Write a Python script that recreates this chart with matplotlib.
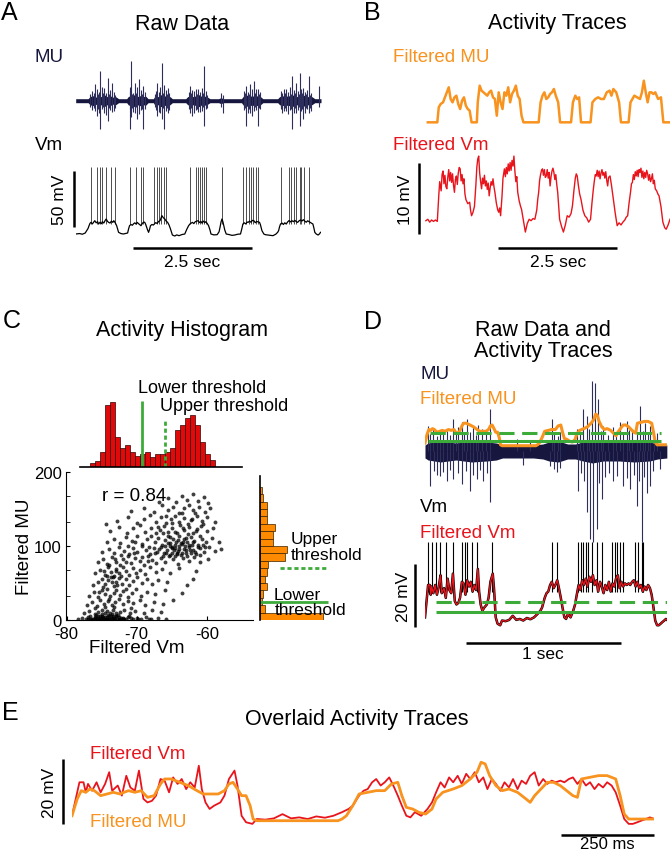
import numpy as np
import matplotlib.pyplot as plt
from matplotlib.lines import Line2D

plt.rcParams['font.family'] = ['Liberation Sans', 'DejaVu Sans']
plt.rcParams['axes.unicode_minus'] = False

NAVY = '#16163e'
NAVY2 = '#2e2e5c'
ORANGE = '#f7931e'
RED = '#e8141c'
GREEN = '#3cab3a'

# ---------------- A: raw data (time in s) ----------------
vm_a = [(0.00, -75.0), (0.08, -74.6), (0.14, -75.2), (0.20, -74.1), (0.26, -70.0), (0.28, -67.6), (0.30, -65.5),
        (0.32, -64.6), (0.35, -66.0), (0.38, -64.2), (0.40, -63.1), (0.43, -65.0), (0.46, -64.0), (0.48, -66.1),
        (0.51, -64.5), (0.54, -65.8), (0.56, -64.0), (0.59, -65.2), (0.62, -62.8), (0.64, -61.6), (0.67, -63.9),
        (0.70, -64.8), (0.72, -65.2), (0.75, -63.5), (0.78, -64.6), (0.80, -63.1), (0.83, -65.0), (0.86, -67.6),
        (0.88, -70.5), (0.90, -73.5), (0.95, -74.6), (1.00, -75.0), (1.05, -74.5), (1.09, -74.1), (1.11, -70.5),
        (1.13, -67.6), (1.16, -66.5), (1.19, -67.2), (1.21, -66.1), (1.24, -65.0), (1.27, -66.2), (1.29, -64.6),
        (1.32, -65.8), (1.35, -66.8), (1.37, -67.6), (1.40, -65.5), (1.43, -64.3), (1.45, -64.6), (1.47, -66.5),
        (1.49, -69.0), (1.51, -71.5), (1.53, -73.5), (1.55, -71.0), (1.57, -67.6), (1.60, -66.5), (1.63, -67.0),
        (1.65, -66.1), (1.68, -64.8), (1.71, -65.6), (1.74, -63.8), (1.77, -63.1), (1.79, -61.0), (1.81, -58.6),
        (1.84, -60.5), (1.87, -61.6), (1.90, -63.5), (1.93, -64.6), (1.96, -67.0), (1.99, -70.5), (2.03, -75.9),
        (2.08, -76.8), (2.12, -75.8), (2.17, -76.5), (2.23, -75.5), (2.29, -75.0), (2.33, -71.0), (2.37, -67.6),
        (2.40, -66.0), (2.43, -65.2), (2.45, -64.6), (2.48, -65.7), (2.51, -64.0), (2.54, -63.6), (2.57, -63.1),
        (2.60, -64.8), (2.63, -63.8), (2.65, -65.2), (2.68, -63.5), (2.71, -64.8), (2.73, -64.0), (2.76, -65.5),
        (2.79, -67.6), (2.82, -71.5), (2.84, -75.0), (2.90, -75.8), (2.97, -75.6), (3.01, -73.0), (3.03, -69.0),
        (3.05, -64.5), (3.07, -61.6), (3.09, -64.0), (3.11, -67.6), (3.13, -71.5), (3.16, -75.0), (3.22, -75.5),
        (3.28, -76.2), (3.34, -75.9), (3.40, -75.2), (3.46, -75.0), (3.49, -70.0), (3.51, -66.1), (3.54, -65.0),
        (3.57, -66.0), (3.60, -64.3), (3.62, -64.6), (3.65, -63.5), (3.68, -64.5), (3.71, -62.8), (3.74, -63.1),
        (3.77, -64.9), (3.80, -63.8), (3.83, -64.2), (3.86, -64.6), (3.88, -67.0), (3.91, -72.0), (3.95, -75.0),
        (3.98, -75.6), (4.05, -76.0), (4.14, -76.5), (4.20, -75.2), (4.24, -73.5), (4.26, -72.0), (4.28, -68.5),
        (4.30, -66.1), (4.33, -65.2), (4.36, -66.5), (4.39, -65.0), (4.42, -66.1), (4.45, -64.2), (4.48, -63.0),
        (4.51, -64.2), (4.54, -63.1), (4.57, -64.0), (4.60, -62.8), (4.63, -63.9), (4.66, -64.6), (4.69, -63.2),
        (4.72, -62.5), (4.75, -63.4), (4.78, -62.2), (4.81, -63.5), (4.84, -64.5), (4.87, -63.2), (4.90, -64.0),
        (4.93, -64.8), (4.96, -65.5), (4.98, -66.1), (5.00, -69.5), (5.02, -73.5), (5.05, -75.0), (5.09, -75.9),
        (5.12, -74.8), (5.14, -73.5)]
spk_a_t = [0.32, 0.44, 0.51, 0.56, 0.64, 0.75, 0.83, 1.13, 1.26, 1.37, 1.42, 1.65, 1.71, 1.74, 1.79,
           1.85, 1.89, 2.39, 2.52, 2.57, 2.61, 2.65, 2.69, 2.73, 3.07, 3.52, 3.58, 3.63, 3.67, 3.72,
           3.78, 3.82, 4.30, 4.48, 4.53, 4.58, 4.62, 4.70, 4.74, 4.80, 4.90]

mu_a_env_t = [0.00, 0.26, 0.30, 0.36, 0.42, 0.48, 0.54, 0.60, 0.66, 0.72, 0.78, 0.84, 0.90, 1.07, 1.11,
              1.17, 1.23, 1.29, 1.35, 1.41, 1.47, 1.52, 1.63, 1.67, 1.73, 1.79, 1.85, 1.91, 1.98, 2.03,
              2.31, 2.35, 2.41, 2.47, 2.53, 2.59, 2.65, 2.71, 2.77, 2.82, 3.00, 3.05, 3.10, 3.48, 3.52,
              3.58, 3.64, 3.70, 3.76, 3.82, 3.88, 3.93, 4.24, 4.28, 4.34, 4.40, 4.46, 4.52, 4.58, 4.64,
              4.70, 4.76, 4.82, 4.88, 4.96, 5.02, 5.15]
mu_a_env = [2, 2, 4, 5, 3.5, 5, 4, 6, 4, 5, 3.5, 4, 2, 2, 4.5, 4, 6, 4, 5, 4, 4.5, 2, 2, 5, 4, 6, 4.5, 5,
            4, 2, 2, 4, 5, 4, 5, 6, 4, 4.5, 3.5, 2, 2, 3, 2, 2, 4.5, 6, 4, 5, 4, 5, 4, 2, 2, 4, 5, 4, 5,
            4.5, 6, 4, 5, 4.5, 6, 4, 4, 2, 2]
# spikes of the raw MU: time, height above and depth below the baseline (px)
mu_a_spk = [(0.40, 17, 10), (0.44, 12, 15), (0.52, 30, 28), (0.60, 13, 12), (0.68, 23, 20), (0.76, 18, 11),
            (1.13, 14, 28), (1.17, 40, 16), (1.25, 18, 12), (1.29, 14, 18), (1.33, 22, 13), (1.41, 15, 28),
            (1.71, 18, 15), (1.77, 14, 12), (1.81, 38, 18), (1.85, 16, 28), (1.93, 13, 12), (2.41, 15, 12),
            (2.45, 11, 15), (2.57, 12, 11), (2.69, 35, 25), (3.05, 8, 6), (3.09, 6, 12), (3.58, 15, 25),
            (3.66, 17, 12), (3.70, 12, 15), (3.74, 20, 10), (3.82, 12, 25), (4.38, 12, 10), (4.54, 25, 28),
            (4.62, 18, 12), (4.70, 28, 25), (4.78, 13, 18), (4.90, 25, 12), (5.10, 15, 6),
            (0.34, 10, 9), (0.48, 9, 12), (0.56, 14, 8), (0.64, 8, 14), (0.72, 11, 9), (0.80, 9, 10),
            (1.15, 10, 8), (1.21, 8, 11), (1.37, 11, 9), (1.45, 9, 8), (1.69, 10, 9), (1.74, 9, 11),
            (1.89, 11, 10), (1.96, 8, 9), (2.37, 9, 8), (2.49, 10, 12), (2.53, 12, 9), (2.61, 9, 11),
            (2.65, 13, 10), (2.73, 10, 8), (3.54, 10, 9), (3.62, 9, 12), (3.78, 12, 9), (3.86, 9, 8),
            (4.30, 10, 8), (4.34, 8, 12), (4.42, 12, 10), (4.46, 9, 13), (4.50, 14, 9), (4.58, 11, 12),
            (4.66, 10, 9), (4.74, 12, 10), (4.82, 9, 12), (4.86, 11, 8), (4.94, 8, 10),
            (0.31, 7, 6), (0.38, 8, 7), (0.46, 7, 8), (0.58, 8, 6), (0.70, 7, 7), (0.82, 6, 7),
            (1.19, 7, 7), (1.27, 8, 6), (1.39, 7, 8), (1.67, 7, 6), (1.83, 8, 7), (1.91, 7, 7),
            (2.43, 8, 7), (2.55, 7, 8), (2.67, 8, 6), (2.75, 6, 7), (3.56, 8, 7), (3.64, 7, 8),
            (3.76, 8, 6), (3.84, 7, 7), (4.32, 7, 6), (4.40, 8, 7), (4.52, 7, 8), (4.60, 8, 7),
            (4.68, 7, 6), (4.76, 8, 8), (4.84, 7, 7), (4.92, 6, 7)]

# ---------------- B: activity traces ----------------
mu_b = [(0.00, 0), (0.20, 0), (0.23, 45), (0.27, 55), (0.32, 60), (0.36, 75), (0.40, 90), (0.44, 105),
        (0.48, 70), (0.52, 60), (0.56, 75), (0.60, 80), (0.64, 55), (0.68, 40), (0.72, 65), (0.76, 75),
        (0.80, 50), (0.84, 40), (0.88, 35), (0.92, 0), (1.03, 0), (1.05, 60), (1.09, 110), (1.13, 95),
        (1.17, 90), (1.21, 85), (1.25, 80), (1.29, 90), (1.33, 95), (1.37, 75), (1.41, 70), (1.45, 20),
        (1.49, 90), (1.53, 60), (1.57, 40), (1.61, 90), (1.65, 80), (1.69, 105), (1.73, 60), (1.77, 85),
        (1.81, 95), (1.85, 110), (1.89, 80), (1.93, 70), (1.97, 20), (2.01, 0), (2.33, 0), (2.37, 60),
        (2.41, 80), (2.45, 90), (2.49, 70), (2.53, 75), (2.57, 85), (2.61, 90), (2.65, 100), (2.69, 80),
        (2.74, 60), (2.78, 0), (3.01, 0), (3.05, 60), (3.10, 80), (3.14, 70), (3.18, 75), (3.22, 0),
        (3.42, 0), (3.46, 60), (3.52, 70), (3.58, 75), (3.64, 70), (3.70, 70), (3.76, 90), (3.82, 95),
        (3.86, 80), (3.90, 100), (3.96, 90), (4.02, 60), (4.06, 0), (4.22, 0), (4.26, 60), (4.30, 70),
        (4.34, 80), (4.40, 75), (4.46, 70), (4.50, 90), (4.54, 125), (4.58, 90), (4.62, 60), (4.66, 90),
        (4.70, 90), (4.74, 85), (4.78, 90), (4.84, 70), (4.90, 75), (4.95, 0), (5.09, 0)]
vm_b = [(-0.04, -74.0), (0.00, -73.8), (0.04, -74.2), (0.08, -73.9), (0.12, -74.1), (0.16, -73.9),
        (0.20, -74.1), (0.23, -70.5), (0.25, -68.5), (0.28, -69.8), (0.30, -67.5), (0.32, -67.0),
        (0.34, -68.8), (0.36, -67.6), (0.38, -69.2), (0.40, -69.5), (0.42, -67.9), (0.44, -66.8),
        (0.46, -68.4), (0.48, -67.2), (0.50, -68.6), (0.52, -67.4), (0.54, -69.0), (0.56, -70.0),
        (0.58, -68.2), (0.60, -67.7), (0.62, -68.9), (0.64, -67.3), (0.66, -66.5), (0.68, -66.7),
        (0.70, -68.4), (0.72, -67.5), (0.74, -68.8), (0.76, -68.1), (0.78, -70.2), (0.80, -71.0),
        (0.84, -71.6), (0.88, -71.4), (0.90, -72.6), (0.92, -73.3), (0.95, -72.8), (0.98, -72.0),
        (1.01, -69.0), (1.03, -66.5), (1.05, -65.3), (1.07, -64.9), (1.09, -67.3), (1.11, -68.5),
        (1.13, -69.5), (1.15, -68.0), (1.17, -68.8), (1.19, -67.6), (1.21, -69.1), (1.23, -68.4),
        (1.25, -69.6), (1.27, -68.7), (1.29, -70.5), (1.31, -69.4), (1.33, -68.5), (1.35, -69.0),
        (1.37, -68.1), (1.39, -69.2), (1.41, -70.0), (1.44, -71.5), (1.47, -72.5), (1.49, -72.8),
        (1.51, -72.2), (1.53, -73.3), (1.56, -70.5), (1.58, -68.0), (1.61, -66.7), (1.63, -67.8),
        (1.65, -66.5), (1.67, -67.4), (1.69, -66.0), (1.71, -67.0), (1.73, -65.8), (1.75, -66.9),
        (1.77, -65.5), (1.79, -66.3), (1.81, -64.9), (1.83, -67.0), (1.85, -68.5), (1.87, -67.8),
        (1.89, -70.0), (1.92, -71.2), (1.95, -72.0), (1.97, -72.4), (2.01, -74.0), (2.05, -75.6),
        (2.09, -74.4), (2.13, -73.8), (2.17, -74.0), (2.21, -73.7), (2.25, -73.8), (2.29, -72.5),
        (2.31, -71.0), (2.33, -70.0), (2.35, -68.3), (2.37, -67.5), (2.39, -66.9), (2.41, -66.7),
        (2.43, -67.6), (2.45, -66.8), (2.47, -67.9), (2.49, -67.7), (2.51, -66.8), (2.53, -68.0),
        (2.55, -67.2), (2.57, -69.1), (2.59, -67.8), (2.61, -67.0), (2.63, -66.6), (2.65, -67.2),
        (2.67, -68.2), (2.69, -67.5), (2.71, -68.9), (2.73, -70.0), (2.75, -71.8), (2.77, -73.8),
        (2.81, -74.8), (2.85, -75.6), (2.89, -74.6), (2.93, -73.3), (2.97, -73.5), (3.01, -73.0),
        (3.04, -71.9), (3.07, -69.8), (3.10, -68.0), (3.12, -67.4), (3.14, -67.7), (3.16, -68.8),
        (3.19, -70.2), (3.22, -71.0), (3.26, -72.5), (3.30, -73.3), (3.34, -73.6), (3.38, -74.2),
        (3.42, -73.8), (3.45, -71.5), (3.48, -69.5), (3.50, -68.4), (3.52, -67.5), (3.54, -67.7),
        (3.56, -66.9), (3.58, -67.8), (3.60, -67.0), (3.62, -68.1), (3.64, -67.3), (3.66, -66.8),
        (3.68, -67.6), (3.70, -67.2), (3.72, -68.0), (3.74, -67.1), (3.76, -68.3), (3.78, -69.1),
        (3.80, -67.9), (3.83, -67.7), (3.86, -69.0), (3.90, -71.0), (3.94, -73.0), (3.98, -74.7),
        (4.02, -74.3), (4.06, -74.6), (4.10, -74.2), (4.14, -73.9), (4.17, -73.5), (4.20, -73.3),
        (4.23, -71.5), (4.26, -70.0), (4.28, -68.8), (4.30, -68.6), (4.32, -67.5), (4.34, -68.2),
        (4.36, -67.1), (4.38, -67.7), (4.40, -66.9), (4.42, -67.8), (4.44, -66.8), (4.46, -67.2),
        (4.48, -66.6), (4.50, -67.9), (4.52, -67.0), (4.54, -68.1), (4.56, -67.2), (4.58, -67.9),
        (4.60, -66.9), (4.62, -67.4), (4.64, -68.3), (4.66, -67.5), (4.68, -68.5), (4.70, -68.1),
        (4.72, -67.4), (4.74, -68.8), (4.76, -68.3), (4.78, -69.5), (4.81, -69.8), (4.84, -70.3),
        (4.86, -70.5), (4.90, -72.0), (4.94, -74.2), (4.98, -75.0), (5.01, -75.2), (5.05, -74.6),
        (5.09, -73.8)]

# ---------------- C: histograms, scatter, thresholds ----------------
vm_lo, vm_hi = -69.3, -66.0      # lower / upper threshold, filtered Vm (mV)
mu_lo, mu_hi = 24, 70            # lower / upper threshold, filtered MU
vm_bin0, vm_binw = -76.7, 0.714
vm_hist = [4, 6, 15, 62, 65, 30, 19, 22, 15, 11, 13, 15, 10, 13, 13, 15, 19, 37, 42, 49, 52, 42, 25, 13, 7]
mu_binw = 10
mu_hist = [63, 5, 2, 3, 7, 5, 7, 8, 25, 27, 13, 13, 15, 7, 7, 7, 3, 2]
r_value = 0.84
scatter_pts = [
    (-78.4, 1), (-77.8, 3), (-77.3, 1), (-76.9, 4), (-76.5, 2), (-76.2, 0), (-75.9, 3), (-75.6, 5), (-75.4, 1),
    (-75.1, 3), (-74.9, 6), (-74.7, 2), (-74.5, 0), (-74.3, 4), (-74.1, 7), (-73.9, 2), (-73.7, 5), (-73.5, 1),
    (-73.3, 3), (-73.0, 6), (-72.8, 2), (-72.5, 4), (-72.2, 1), (-71.9, 3), (-71.5, 2), (-71.1, 5), (-70.6, 1),
    (-70.0, 3), (-69.4, 2), (-68.7, 4), (-67.9, 1), (-67.0, 3), (-65.8, 2), (-76.0, 1), (-75.2, 0), (-74.0, 1),
    (-73.1, 0), (-72.6, 2), (-74.8, 4), (-76.7, 6),
    (-76.4, 2), (-76.0, 4), (-75.7, 1), (-75.3, 6), (-75.0, 2), (-74.6, 4), (-74.2, 1), (-73.9, 5), (-73.6, 3),
    (-73.2, 2), (-72.9, 5), (-72.6, 0), (-72.3, 3), (-71.8, 1), (-71.3, 4), (-77.0, 2), (-76.7, 0), (-75.5, 3),
    (-74.4, 2), (-73.4, 5), (-72.0, 2), (-70.8, 3), (-69.8, 1), (-68.2, 2), (-74.9, 8), (-73.5, 8), (-75.8, 7),
    (-72.7, 7),
    (-77.6, 9), (-76.8, 12), (-76.0, 8), (-75.5, 11), (-75.0, 14), (-74.6, 9), (-74.2, 12), (-73.8, 10),
    (-73.4, 13), (-73.0, 9), (-72.4, 11), (-71.8, 14), (-71.0, 10), (-70.2, 12), (-69.0, 9), (-67.8, 13),
    (-66.5, 11), (-75.9, 16), (-74.6, 17), (-73.3, 18), (-70.8, 16),
    (-77.1, 20), (-76.4, 24), (-75.7, 19), (-75.2, 27), (-74.7, 22), (-74.1, 26), (-73.6, 20), (-73.1, 25),
    (-72.6, 28), (-72.0, 21), (-71.3, 26), (-70.5, 23), (-69.6, 27), (-68.8, 20), (-67.6, 25), (-66.2, 22),
    (-64.8, 27), (-73.9, 28),
    (-76.8, 33), (-76.1, 38), (-75.5, 31), (-75.0, 40), (-74.6, 35), (-74.2, 42), (-73.8, 32), (-73.3, 37),
    (-72.9, 41), (-72.4, 34), (-71.9, 39), (-71.3, 31), (-70.7, 36), (-70.1, 42), (-69.4, 33), (-68.5, 38),
    (-67.4, 35), (-66.0, 40), (-63.5, 37), (-75.4, 38), (-71.6, 42),
    (-76.3, 47), (-75.6, 52), (-75.0, 56), (-74.5, 48), (-74.1, 54), (-73.7, 58), (-73.3, 46), (-72.9, 51),
    (-72.5, 57), (-72.1, 49), (-71.6, 55), (-71.1, 47), (-70.6, 53), (-70.0, 58), (-69.3, 50), (-68.6, 55),
    (-67.8, 48), (-66.9, 54), (-65.7, 51), (-62.8, 47), (-61.9, 56), (-73.5, 52), (-74.3, 60), (-74.8, 45),
    (-72.8, 47), (-73.4, 58),
    (-75.9, 63), (-75.2, 68), (-74.6, 61), (-74.1, 71), (-73.7, 65), (-73.3, 60), (-72.9, 69), (-72.5, 63),
    (-72.0, 72), (-71.6, 66), (-71.1, 61), (-70.6, 70), (-70.1, 64), (-69.5, 68), (-68.8, 62), (-68.1, 71),
    (-67.3, 65), (-66.4, 69), (-65.2, 63), (-64.0, 70), (-61.5, 66), (-73.0, 66), (-72.2, 60), (-74.7, 66),
    (-75.5, 78), (-74.8, 83), (-74.2, 76), (-73.6, 85), (-73.0, 79), (-72.4, 74), (-71.9, 82), (-71.3, 86),
    (-70.8, 77), (-70.2, 84), (-69.6, 80), (-69.0, 75), (-68.4, 86), (-67.8, 81), (-67.2, 77), (-66.6, 84),
    (-66.0, 79), (-65.4, 86), (-64.8, 82), (-64.1, 76), (-63.4, 84), (-62.6, 80), (-61.8, 85), (-60.9, 78),
    (-59.8, 83), (-73.9, 74), (-73.1, 82), (-72.2, 88), (-71.5, 78), (-70.4, 90), (-69.2, 85), (-68.4, 80),
    (-74.9, 92), (-74.0, 96), (-73.2, 90), (-72.5, 98), (-71.8, 93), (-71.1, 89), (-70.5, 97), (-69.9, 92),
    (-69.3, 100), (-68.7, 94), (-68.1, 89), (-67.6, 97), (-67.1, 92), (-66.6, 99), (-66.1, 90), (-65.7, 95),
    (-65.3, 100), (-64.9, 91), (-64.5, 97), (-64.1, 93), (-63.7, 88), (-63.3, 96), (-62.9, 91), (-62.5, 99),
    (-62.0, 94), (-61.5, 89), (-61.0, 97), (-60.4, 92), (-59.7, 98), (-58.8, 93), (-57.9, 96), (-64.3, 89),
    (-63.0, 95), (-65.0, 97), (-62.2, 90), (-63.9, 100), (-64.7, 94),
    (-66.3, 86), (-65.8, 91), (-65.3, 88), (-64.9, 98), (-64.6, 86), (-64.2, 91), (-63.9, 96), (-63.5, 91),
    (-63.1, 100), (-62.8, 87), (-62.4, 94), (-62.1, 102), (-61.7, 92), (-61.3, 98), (-60.9, 88), (-60.5, 101),
    (-66.8, 96), (-67.4, 90), (-68.3, 98), (-71.2, 100), (-60.2, 99), (-65.9, 100),
    (-74.3, 106), (-73.2, 110), (-72.4, 104), (-71.5, 112), (-70.7, 107), (-70.0, 113), (-69.3, 103),
    (-68.6, 109), (-68.0, 114), (-67.4, 105), (-66.9, 111), (-66.4, 102), (-66.0, 108), (-65.6, 114),
    (-65.2, 104), (-64.8, 110), (-64.4, 106), (-64.0, 113), (-63.6, 103), (-63.2, 109), (-62.8, 105),
    (-62.3, 112), (-61.8, 107), (-61.3, 102), (-60.7, 110), (-60.1, 105), (-59.3, 111), (-58.2, 106),
    (-63.4, 106), (-64.6, 102), (-62.6, 101), (-65.5, 104), (-64.1, 108), (-63.0, 111), (-62.0, 106),
    (-61.0, 114), (-63.7, 104), (-70.2, 105), (-65.2, 112),
    (-73.8, 120), (-72.6, 126), (-71.4, 118), (-70.5, 124), (-69.6, 128), (-68.8, 119), (-68.0, 125),
    (-67.3, 117), (-66.7, 122), (-66.1, 127), (-65.5, 119), (-64.9, 124), (-64.3, 117), (-63.8, 128),
    (-63.2, 121), (-62.6, 126), (-62.0, 118), (-61.4, 123), (-60.8, 127), (-60.0, 120), (-59.1, 125),
    (-62.7, 116), (-64.5, 119), (-61.6, 120), (-63.4, 125), (-66.2, 117), (-66.9, 126),
    (-74.4, 130), (-72.8, 134), (-71.3, 139), (-70.0, 131), (-69.0, 137), (-68.1, 142), (-67.3, 133),
    (-66.5, 139), (-65.8, 131), (-65.1, 136), (-64.5, 141), (-63.9, 133), (-63.3, 138), (-62.7, 130),
    (-62.1, 136), (-61.4, 141), (-60.7, 134), (-59.9, 139), (-58.8, 132), (-60.6, 130), (-62.3, 135),
    (-64.9, 131), (-65.8, 141),
    (-70.8, 147), (-68.9, 152), (-67.5, 146), (-66.4, 155), (-65.6, 149), (-64.8, 153), (-64.0, 145),
    (-63.3, 151), (-62.6, 156), (-61.9, 148), (-61.1, 153), (-60.3, 146), (-59.5, 151), (-63.6, 145),
    (-61.7, 144),
    (-66.8, 160), (-65.5, 165), (-64.4, 159), (-63.6, 168), (-62.8, 162), (-62.0, 170), (-61.2, 161),
    (-60.4, 166), (-59.8, 158)]

# ---------------- D / E: the same 1.56 s segment ----------------
vm_e = [(0.000, -71.0), (0.020, -60.7), (0.031, -60.7), (0.037, -63.8), (0.043, -61.2), (0.054, -63.3),
        (0.066, -60.7), (0.077, -63.8), (0.089, -61.2), (0.100, -57.6), (0.108, -63.3), (0.123, -61.7),
        (0.134, -64.8), (0.146, -58.7), (0.157, -62.3), (0.169, -63.3), (0.180, -57.1), (0.192, -65.8),
        (0.203, -66.9), (0.215, -66.4), (0.226, -64.8), (0.238, -59.7), (0.249, -60.2), (0.261, -63.8),
        (0.272, -59.2), (0.284, -61.2), (0.295, -59.7), (0.307, -62.8), (0.318, -60.7), (0.330, -62.3),
        (0.341, -55.6), (0.349, -62.8), (0.359, -66.9), (0.370, -68.9), (0.382, -67.9), (0.399, -66.9),
        (0.410, -64.8), (0.422, -59.7), (0.437, -57.1), (0.445, -61.7), (0.456, -71.0), (0.468, -73.0),
        (0.485, -73.5), (0.497, -72.0), (0.520, -72.2), (0.543, -71.8), (0.566, -70.5), (0.589, -71.8),
        (0.611, -71.5), (0.634, -72.0), (0.657, -71.2), (0.680, -71.6), (0.703, -71.0), (0.726, -69.9),
        (0.744, -68.9), (0.755, -67.9), (0.772, -64.8), (0.784, -63.3), (0.795, -62.8), (0.807, -60.7),
        (0.818, -59.7), (0.830, -61.7), (0.841, -60.7), (0.853, -59.2), (0.864, -61.7), (0.876, -64.8),
        (0.887, -67.9), (0.899, -71.0), (0.910, -71.5), (0.922, -69.9), (0.939, -71.0), (0.956, -68.9),
        (0.968, -66.9), (0.979, -63.8), (0.991, -60.7), (1.002, -62.3), (1.014, -59.2), (1.025, -60.7),
        (1.037, -58.7), (1.048, -61.2), (1.060, -58.1), (1.071, -59.7), (1.083, -57.6), (1.094, -60.7),
        (1.106, -59.2), (1.117, -62.8), (1.129, -59.7), (1.140, -61.2), (1.152, -63.3), (1.163, -60.7),
        (1.175, -62.3), (1.186, -59.7), (1.198, -62.8), (1.209, -60.2), (1.221, -61.2), (1.232, -58.7),
        (1.244, -57.6), (1.255, -61.7), (1.267, -59.7), (1.278, -61.2), (1.290, -60.2), (1.301, -60.7),
        (1.313, -60.2), (1.324, -60.7), (1.336, -59.7), (1.347, -59.2), (1.359, -61.2), (1.370, -59.7),
        (1.382, -61.7), (1.393, -60.7), (1.405, -62.8), (1.416, -61.2), (1.428, -62.3), (1.439, -60.7),
        (1.451, -61.7), (1.462, -63.8), (1.474, -67.9), (1.485, -72.0), (1.497, -73.5), (1.508, -73.5),
        (1.520, -73.0), (1.531, -72.5), (1.543, -72.0), (1.554, -71.5), (1.566, -72.0)]
mu_e = [(0.000, 15), (0.014, 65), (0.025, 90), (0.037, 85), (0.048, 95), (0.060, 90), (0.077, 75),
        (0.094, 80), (0.111, 85), (0.129, 80), (0.140, 85), (0.152, 90), (0.169, 85), (0.186, 90),
        (0.203, 70), (0.221, 75), (0.238, 110), (0.249, 125), (0.267, 125), (0.290, 115), (0.313, 105),
        (0.336, 90), (0.353, 80), (0.370, 80), (0.393, 80), (0.410, 90), (0.422, 110), (0.433, 115),
        (0.445, 95), (0.456, 75), (0.468, 75), (0.479, 45), (0.487, 5), (0.497, 0), (0.611, 0), (0.715, 0),
        (0.726, 5), (0.738, 15), (0.755, 45), (0.772, 80), (0.795, 85), (0.818, 90), (0.841, 90),
        (0.859, 110), (0.876, 115), (0.887, 75), (0.899, 40), (0.916, 35), (0.933, 25), (0.951, 20),
        (0.968, 35), (0.979, 65), (0.997, 85), (1.025, 95), (1.048, 105), (1.071, 125), (1.089, 145),
        (1.100, 175), (1.111, 170), (1.123, 135), (1.140, 105), (1.157, 90), (1.175, 95), (1.198, 85),
        (1.221, 65), (1.232, 55), (1.244, 75), (1.261, 95), (1.278, 115), (1.295, 115), (1.313, 105),
        (1.330, 90), (1.347, 75), (1.359, 70), (1.370, 125), (1.393, 130), (1.416, 135), (1.439, 135),
        (1.462, 125), (1.474, 75), (1.485, 20), (1.497, 5), (1.520, 5), (1.543, 5), (1.566, 5)]
spk_d_t = [0.022, 0.043, 0.071, 0.097, 0.135, 0.183, 0.237, 0.258, 0.273, 0.301, 0.333, 0.430, 0.817,
           0.854, 0.989, 1.004, 1.022, 1.039, 1.054, 1.075, 1.108, 1.140, 1.204, 1.226, 1.241, 1.258,
           1.280, 1.355, 1.376, 1.398, 1.409]
mu_d_env_t = [0.00, 0.02, 0.10, 0.20, 0.30, 0.40, 0.46, 0.50, 0.60, 0.70, 0.76, 0.80, 0.86, 0.92, 0.97,
              1.02, 1.08, 1.15, 1.25, 1.35, 1.45, 1.50, 1.56]
mu_d_env_up = [6, 8, 10, 8, 10, 9, 8, 6, 5, 6, 7, 9, 10, 7, 7, 9, 11, 9, 9, 10, 9, 7, 6]
mu_d_env_dn = [7, 9, 11, 9, 11, 10, 9, 7, 7, 7, 8, 10, 11, 8, 8, 10, 12, 10, 10, 11, 10, 8, 7]
mu_d_up = [(0.022, 25), (0.054, 22), (0.097, 19), (0.140, 20), (0.183, 32), (0.215, 24), (0.237, 29),
           (0.269, 32), (0.312, 25), (0.344, 26), (0.366, 22), (0.419, 42), (0.591, 12), (0.677, 10),
           (0.817, 32), (0.871, 19), (0.978, 22), (1.022, 42), (1.043, 35), (1.075, 70), (1.097, 68),
           (1.118, 52), (1.151, 25), (1.215, 24), (1.258, 29), (1.301, 30), (1.333, 22), (1.387, 45),
           (1.419, 28), (1.452, 25), (1.495, 18), (0.035, 17), (0.075, 15), (0.118, 18), (0.160, 16),
           (0.200, 18), (0.252, 17), (0.290, 19), (0.327, 16), (0.395, 18), (0.835, 18), (0.855, 15),
           (0.998, 17), (1.060, 22), (1.135, 20), (1.180, 16), (1.235, 19), (1.280, 17), (1.318, 21),
           (1.365, 18), (1.405, 20), (1.440, 17), (1.475, 15)]
mu_d_dn = [(0.032, 35), (0.097, 25), (0.140, 30), (0.183, 28), (0.237, 33), (0.290, 40), (0.333, 28),
           (0.376, 30), (0.419, 51), (0.634, 14), (0.806, 15), (0.849, 21), (0.989, 40), (1.043, 61),
           (1.065, 88), (1.086, 91), (1.108, 78), (1.140, 48), (1.215, 30), (1.280, 35), (1.323, 38),
           (1.366, 55), (1.398, 91), (1.430, 42), (1.452, 35), (1.516, 18), (0.055, 20), (0.075, 24),
           (0.118, 21), (0.160, 19), (0.210, 22), (0.262, 20), (0.310, 24), (0.355, 19), (0.398, 22),
           (0.830, 18), (0.870, 17), (1.005, 22), (1.025, 30), (1.125, 32), (1.160, 26), (1.190, 22),
           (1.240, 25), (1.300, 27), (1.345, 24), (1.380, 30), (1.415, 26), (1.470, 20)]

# ---------------- figure in pixel coordinates ----------------
W, H = 670, 853
fig = plt.figure(figsize=(W / 100, H / 100), dpi=100)


def px_axes(l, t, r, b, off=True):
    ax = fig.add_axes([l / W, 1 - b / H, (r - l) / W, (b - t) / H])
    if off:
        ax.axis('off')
    else:
        ax.patch.set_visible(False)
    return ax


def txt(x, y, s, size=13.5, ha='left', **kw):
    fig.text(x / W, 1 - y / H, s, fontsize=size, ha=ha, va='center', **kw)


def scale_bar(x0, y0, x1, y1):
    fig.add_artist(Line2D([x0 / W, x1 / W], [1 - y0 / H, 1 - y1 / H], color='k', lw=1.8,
                          solid_capstyle='butt', transform=fig.transFigure))


def split(pairs):
    a, b = zip(*pairs)
    return np.array(a), np.array(b)


# ----- A -----
txt(1, 13, 'A', size=18)
txt(182, 24, 'Raw Data', size=15.5, ha='center')
txt(35, 57, 'MU', color=NAVY)
txt(35, 145, 'Vm')

ax = px_axes(75.7, 55, 321, 140)
ax.set_xlim(0, 5.15)
ax.set_ylim(-38.3, 46.7)
ax.fill_between(mu_a_env_t, -np.array(mu_a_env), mu_a_env, color=NAVY, lw=0)
st, su, sd = zip(*mu_a_spk)
ax.vlines(st, -np.array(sd), su, color=NAVY2, lw=0.8)

ax = px_axes(75.7, 160, 321, 242)
ax.set_xlim(0, 5.15)
ax.set_ylim(-81.25, -8.0)
ax.vlines(spk_a_t, -66, -15, color='0.3', lw=0.7)
t, v = split(vm_a)
ax.plot(t, v, color='k', lw=0.9)
scale_bar(74, 172, 74, 228)
txt(60, 200, '50 mV', size=12.5, ha='center', rotation=90)
scale_bar(132.7, 249, 251.7, 249)
txt(192, 263, '2.5 sec', size=12.5, ha='center')

# ----- B -----
txt(364, 13, 'B', size=18)
txt(557, 24, 'Activity Traces', size=15.5, ha='center')
txt(393, 57, 'Filtered MU', color=ORANGE)
txt(393, 145, 'Filtered Vm', color=RED)

ax = px_axes(420, 70, 670, 135)
ax.set_xlim(-0.164, 5.09)
ax.set_ylim(-35, 160)
t, v = split(mu_b)
ax.plot(t, v, color=ORANGE, lw=1.8)

ax = px_axes(420, 150, 670, 242)
ax.set_xlim(-0.164, 5.09)
ax.set_ylim(-76.86, -63.9)
t, v = split(vm_b)
ax.plot(t, v, color=RED, lw=1.0)
scale_bar(419.3, 164, 419.3, 235)
txt(406, 200, '10 mV', size=12.5, ha='center', rotation=90)
scale_bar(498.3, 249, 617.3, 249)
txt(558, 263, '2.5 sec', size=12.5, ha='center')

# ----- C -----
txt(3, 321, 'C', size=18)
txt(182, 331, 'Activity Histogram', size=15.5, ha='center')

vm_x0, vm_x1 = -80.1, -53.4
ax = px_axes(66, 380, 253, 468, off=False)
ax.set_xlim(vm_x0, vm_x1)
ax.set_ylim(0, 88)
ax.bar(vm_bin0 + vm_binw * np.arange(len(vm_hist)), vm_hist, width=vm_binw, align='edge',
       color='#e10a0a', edgecolor='#300000', lw=0.5)
ax.vlines(vm_lo, 0, 66, color=GREEN, lw=2)
ax.vlines(vm_hi, 0, 48, color=GREEN, lw=2, linestyles=(0, (1.5, 1.0)))
for s in ['top', 'right', 'left']:
    ax.spines[s].set_visible(False)
ax.spines['bottom'].set_bounds(-78.1, -54.9)
ax.spines['bottom'].set_linewidth(1.2)
ax.set_xticks([])
ax.set_yticks([])
txt(138, 389, 'Lower threshold', size=13)
txt(160, 407, 'Upper threshold', size=13)

ax = px_axes(66, 473, 253, 621, off=False)
ax.set_xlim(vm_x0, vm_x1)
ax.set_ylim(0, 200)
sx, sy = split(scatter_pts)
ax.scatter(sx, sy, s=8, color='k', alpha=0.75, linewidths=0)
for s in ['top', 'right']:
    ax.spines[s].set_visible(False)
ax.set_xticks([-80, -70, -60])
ax.set_yticks([0, 100, 200])
ax.set_yticks([33, 67, 133, 167], minor=True)
ax.tick_params(direction='in', length=3, labelsize=12)
ax.tick_params(axis='x', pad=4)
ax.tick_params(axis='y', pad=3)
ax.tick_params(which='minor', direction='in', length=3)
txt(102, 497, 'r = %.2f' % r_value, size=13.5)
txt(25, 547, 'Filtered MU', ha='center', rotation=90)
txt(137, 649, 'Filtered Vm', ha='center')

ax = px_axes(260, 473, 330, 621, off=False)
ax.set_xlim(0, 70)
ax.set_ylim(0, 200)
ax.barh(mu_binw * np.arange(len(mu_hist)), mu_hist, height=mu_binw, align='edge',
        color='#ff8a00', edgecolor='#3a2000', lw=0.5)
ax.hlines(mu_lo, 0, 68, color=GREEN, lw=2)
ax.hlines(mu_hi, 20, 68, color=GREEN, lw=2, linestyles=(0, (1.5, 1.0)))
for s in ['top', 'right', 'bottom']:
    ax.spines[s].set_visible(False)
ax.spines['left'].set_bounds(0, 195)
ax.spines['left'].set_linewidth(1.2)
ax.set_xticks([])
ax.set_yticks([])
txt(291, 540, 'Upper', size=12.5)
txt(291, 556, 'threshold', size=12.5)
txt(274, 596, 'Lower', size=12.5)
txt(275, 611, 'threshold', size=12.5)

# ----- D -----
txt(364, 322, 'D', size=18)
txt(543, 330, 'Raw Data and', size=15.5, ha='center')
txt(543, 352, 'Activity Traces', size=15.5, ha='center')
txt(420, 375, 'MU', color=NAVY)
txt(420, 400, 'Filtered MU', color=ORANGE)
txt(420, 508, 'Vm')
txt(420, 534, 'Filtered Vm', color=RED)

d_t1 = 1.561
ax = px_axes(425, 360, 667, 545)
ax.set_xlim(0, d_t1)
ax.set_ylim(-93, 92)
ax.fill_between(mu_d_env_t, -np.array(mu_d_env_dn), mu_d_env_up, color=NAVY, lw=0)
t, v = split(mu_d_up)
ax.vlines(t, 0, v, color=NAVY2, lw=0.8)
t, v = split(mu_d_dn)
ax.vlines(t, -v, 0, color=NAVY2, lw=0.8)

ax = px_axes(425, 360, 667, 545)
ax.set_xlim(0, d_t1)
ax.set_ylim(-546, 481.7)
t, v = split(mu_e)
ax.plot(t, v, color=ORANGE, lw=2.2)
ax.hlines(mu_lo, 0.02, 1.52, color=GREEN, lw=2.2)
ax.hlines(mu_hi, 0.03, 1.52, color=GREEN, lw=2.2, linestyles=(0, (5, 2.5)))

ax = px_axes(425, 535, 667, 640)
ax.set_xlim(0, d_t1)
ax.set_ylim(-77.87, -44.5)
ax.vlines(spk_d_t, -63, -47.1, color='k', lw=0.8)
t, v = split(vm_e)
ax.plot(t, v, color='k', lw=1.8)
ax.plot(t, v, color=RED, lw=1.0)
ax.hlines(vm_lo, 0.071, d_t1, color=GREEN, lw=2.2)
ax.hlines(vm_hi, 0.071, d_t1, color=GREEN, lw=2.2, linestyles=(0, (5, 2.5)))
scale_bar(415, 565, 415, 628)
txt(403, 597, '20 mV', size=12.5, ha='center', rotation=90)
scale_bar(466, 644, 621, 644)
txt(543, 655, '1 sec', size=12.5, ha='center')

# ----- E -----
txt(2, 713, 'E', size=18)
txt(357, 720, 'Overlaid Activity Traces', size=15.5, ha='center')
txt(90, 755, 'Filtered Vm', color=RED)
txt(90, 823, 'Filtered MU', color=ORANGE)

ax = px_axes(72, 750, 654, 832)
ax.set_xlim(0, 1.565)
ax.set_ylim(-75.69, -50.46)
t, v = split(vm_e)
ax.plot(t, v, color=RED, lw=1.3)

ax = px_axes(72, 750, 654, 832)
ax.set_xlim(0, 1.565)
ax.set_ylim(-30.8, 214.7)
t, v = split(mu_e)
ax.plot(t, v, color=ORANGE, lw=2.0)

scale_bar(63, 760, 63, 825)
txt(49, 793, '20 mV', size=12.5, ha='center', rotation=90)
scale_bar(561, 836, 654, 836)
txt(607, 845, '250 ms', size=12, ha='center')

fig.savefig('out.png', dpi=100, facecolor='white')
